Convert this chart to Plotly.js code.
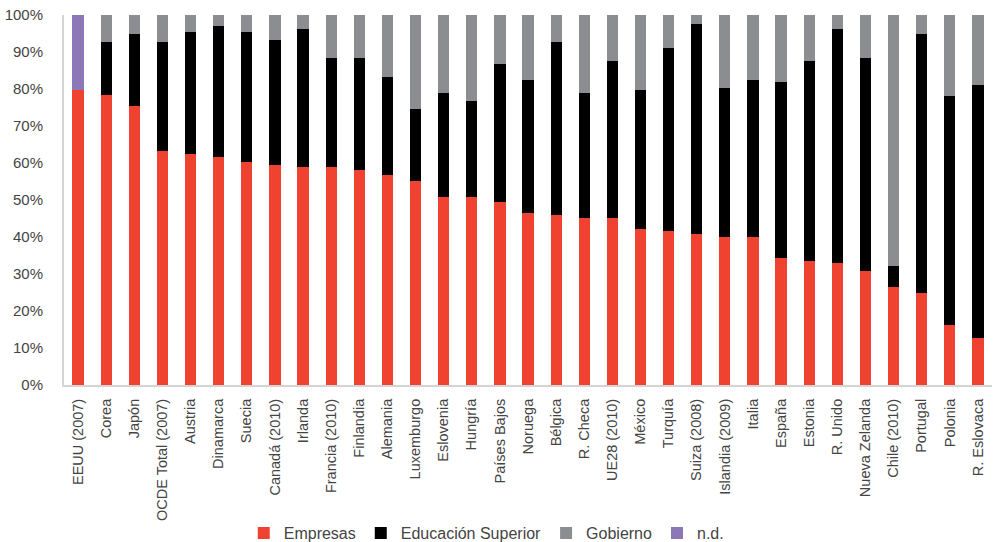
<!DOCTYPE html>
<html>
<head>
<meta charset="utf-8">
<script src="https://cdn.plot.ly/plotly-3.0.1.min.js"></script>
<style>html,body{margin:0;padding:0;background:#fff;}#chart{width:1000px;height:542px;}</style>
</head>
<body>
<div id="chart"></div>
<script>
const categories = ["EEUU (2007)","Corea","Japón","OCDE Total (2007)","Austria","Dinamarca","Suecia","Canadá (2010)","Irlanda","Francia (2010)","Finlandia","Alemania","Luxemburgo","Eslovenia","Hungría","Países Bajos","Noruega","Bélgica","R. Checa","UE28 (2010)","México","Turquía","Suiza (2008)","Islandia (2009)","Italia","España","Estonia","R. Unido","Nueva Zelanda","Chile (2010)","Portugal","Polonia","R. Eslovaca"];

const empresas = [79.7,78.3,75.4,63.2,62.4,61.7,60.3,59.5,58.8,58.8,58.1,56.8,55.1,50.9,50.9,49.5,46.6,45.9,45.1,45.1,42.2,41.6,40.8,40.0,40.0,34.3,33.5,32.9,30.7,26.4,24.9,16.2,12.7];
const educacion = [0,14.3,19.4,29.4,33.0,35.2,35.1,33.7,37.4,29.5,30.2,26.5,19.6,28.1,25.9,37.3,35.8,46.7,33.9,42.6,37.4,49.6,56.9,40.4,42.4,47.5,54.2,63.3,57.6,5.7,69.9,62.0,68.4];
const gobierno = [0,7.4,5.2,7.4,4.6,3.1,4.6,6.8,3.8,11.7,11.7,16.7,25.3,21.0,23.2,13.2,17.6,7.4,21.0,12.3,20.4,8.8,2.3,19.6,17.6,18.2,12.3,3.8,11.7,67.9,5.2,21.8,18.9];
const nd = [20.3,0,0,0,0,0,0,0,0,0,0,0,0,0,0,0,0,0,0,0,0,0,0,0,0,0,0,0,0,0,0,0,0];

const seriesNames = ["Empresas","Educación Superior","Gobierno","n.d."];
const seriesColors = ["#ef4230","#000000","#8c8d90","#8c78b6"];
const seriesValues = [empresas, educacion, gobierno, nd];

const traces = seriesValues.map((vals, i) => ({
  type: "bar",
  name: seriesNames[i],
  x: categories,
  y: vals,
  marker: {color: seriesColors[i], line: {width: 0}},
  hoverinfo: "x+y+name"
}));

const layout = {
  width: 1000,
  height: 542,
  barmode: "stack",
  bargap: 0.6,
  margin: {l: 64, r: 8, t: 15, b: 157, autoexpand: false},
  paper_bgcolor: "#ffffff",
  plot_bgcolor: "#ffffff",
  font: {family: "Liberation Sans, Arial, sans-serif", color: "#444444", size: 14},
  xaxis: {
    type: "category",
    tickangle: -90,
    showgrid: false,
    zeroline: false,
    showline: true,
    linecolor: "#d4d4d4",
    linewidth: 2,
    ticks: "",
    ticklabelstandoff: 6,
    automargin: false,
    tickfont: {size: 14.5, color: "#444444"}
  },
  yaxis: {
    range: [0, 100],
    tickvals: [0,10,20,30,40,50,60,70,80,90,100],
    ticktext: ["0%","10%","20%","30%","40%","50%","60%","70%","80%","90%","100%"],
    showgrid: false,
    zeroline: false,
    showline: true,
    linecolor: "#d4d4d4",
    linewidth: 2,
    ticks: "",
    ticklabelstandoff: 16,
    automargin: false,
    tickfont: {size: 15, color: "#444444"}
  },
  legend: {
    orientation: "h",
    x: 0.455,
    xanchor: "center",
    y: -0.4,
    yanchor: "middle",
    font: {size: 16, color: "#444444"},
    traceorder: "normal"
  },
  showlegend: true
};

Plotly.newPlot("chart", traces, layout, {displayModeBar: false, staticPlot: true});
</script>
</body>
</html>
